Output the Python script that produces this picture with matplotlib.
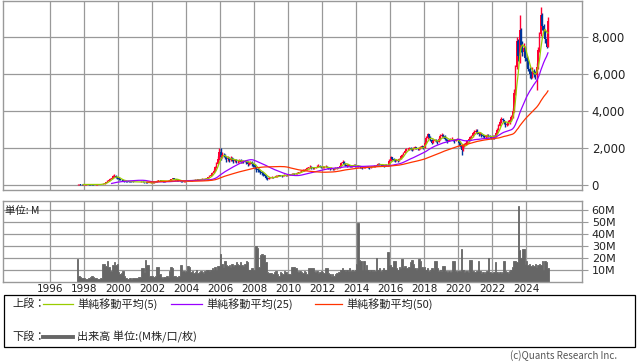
import numpy as np
import pandas as pd
import matplotlib
matplotlib.use("Agg")
import matplotlib.pyplot as plt
from matplotlib.patches import Rectangle
from matplotlib.lines import Line2D

plt.rcParams['font.family'] = ['Noto Sans CJK JP', 'DejaVu Sans']

# monthly data, first month = Aug 1997
start_year, start_month = 1997, 8

close = [
    30, 32, 28, 26, 27,                                              # 1997
    28, 30, 32, 30, 28, 27, 26, 25, 27, 30, 32, 35,                  # 1998
    55, 80, 110, 160, 220, 280, 330, 400, 470, 500, 440, 380,        # 1999
    320, 280, 250, 230, 220, 210, 200, 190, 180, 175, 170, 165,      # 2000
    170, 165, 160, 170, 180, 175, 160, 140, 110, 100, 115, 125,      # 2001
    140, 160, 190, 230, 260, 250, 230, 210, 200, 205, 215, 230,      # 2002
    270, 310, 360, 340, 300, 270, 240, 220, 200, 190, 200, 210,      # 2003
    220, 230, 240, 255, 260, 270, 280, 290, 300, 310, 320, 330,      # 2004
    310, 330, 360, 420, 480, 550, 640, 780, 950, 1150, 1400, 1800,   # 2005
    1500, 1650, 1600, 1500, 1400, 1450, 1350, 1450, 1400, 1300, 1350, 1300,  # 2006
    1300, 1350, 1250, 1300, 1280, 1320, 1250, 1150, 1200, 1250, 1150, 1100,  # 2007
    950, 850, 800, 760, 700, 650, 600, 500, 400, 330, 380, 420,      # 2008
    430, 420, 450, 480, 500, 520, 510, 500, 520, 540, 530, 550,      # 2009
    560, 580, 600, 620, 600, 620, 650, 680, 720, 760, 800, 820,      # 2010
    850, 900, 950, 1000, 950, 900, 920, 950, 1000, 1050, 1000, 950,  # 2011
    950, 980, 1000, 950, 900, 880, 900, 870, 880, 900, 920, 950,     # 2012
    1050, 1200, 1250, 1150, 1100, 1050, 1080, 1050, 1000, 1050, 1080, 1050,  # 2013
    1050, 1000, 980, 950, 920, 950, 980, 1000, 960, 940, 980, 1000,  # 2014
    1020, 1050, 1100, 1150, 1120, 1100, 1080, 1050, 1100, 1080, 1100, 1300,  # 2015
    1500, 1400, 1350, 1300, 1350, 1300, 1400, 1550, 1650, 1750, 1850, 1950,  # 2016
    1950, 2000, 1950, 1900, 2000, 2050, 2000, 1950, 2000, 2050, 2100, 2000,  # 2017
    2300, 2550, 2750, 2600, 2450, 2300, 2400, 2450, 2400, 2350, 2500, 2650,  # 2018
    2700, 2650, 2500, 2450, 2400, 2450, 2500, 2500, 2450, 2400, 2450, 2500,  # 2019
    2300, 2100, 1900, 2100, 2200, 2300, 2400, 2500, 2600, 2650, 2800, 2900,  # 2020
    2950, 2850, 2750, 2800, 2700, 2650, 2600, 2650, 2700, 2650, 2600, 2550,  # 2021
    2650, 2600, 2800, 3000, 3200, 3400, 3600, 3500, 3400, 3250, 3300, 3400,  # 2022
    3500, 3700, 4000, 5000, 6400, 7800, 7000, 8400, 7600, 7200, 7400, 6900,  # 2023
    6700, 6300, 6000, 5900, 6200, 6000, 5950, 6400, 7300, 8200, 9200, 8600,  # 2024
    8300, 7900, 7500, 8900,                                          # 2025
]

high = [
    38, 36, 33, 30, 30,
    31, 33, 35, 34, 31, 30, 29, 28, 30, 33, 35, 40,
    65, 95, 130, 190, 250, 320, 370, 450, 540, 580, 520, 450,
    400, 340, 300, 270, 250, 240, 230, 220, 210, 200, 195, 190,
    190, 185, 180, 190, 200, 200, 185, 170, 145, 120, 130, 140,
    160, 180, 215, 260, 290, 285, 260, 240, 225, 230, 240, 255,
    300, 350, 400, 380, 345, 305, 275, 250, 230, 215, 220, 230,
    240, 250, 265, 275, 285, 295, 305, 315, 325, 335, 345, 355,
    345, 360, 390, 450, 520, 600, 700, 850, 1050, 1250, 1550, 2020,
    1980, 1800, 1750, 1700, 1550, 1550, 1500, 1550, 1500, 1450, 1420, 1400,
    1380, 1420, 1400, 1360, 1350, 1380, 1350, 1280, 1260, 1300, 1280, 1200,
    1150, 1000, 900, 850, 800, 740, 680, 620, 520, 430, 430, 460,
    470, 460, 480, 520, 540, 560, 550, 540, 560, 580, 570, 590,
    600, 620, 650, 670, 650, 660, 690, 720, 770, 810, 850, 870,
    900, 950, 1000, 1060, 1030, 960, 970, 1000, 1060, 1120, 1080, 1020,
    1010, 1040, 1060, 1020, 960, 930, 950, 920, 920, 950, 970, 1000,
    1100, 1260, 1330, 1300, 1200, 1120, 1130, 1110, 1070, 1100, 1130, 1120,
    1100, 1080, 1030, 1000, 970, 990, 1020, 1050, 1020, 990, 1020, 1050,
    1060, 1090, 1150, 1200, 1180, 1150, 1130, 1100, 1140, 1130, 1150, 1400,
    1560, 1530, 1450, 1400, 1420, 1380, 1450, 1600, 1700, 1800, 1900, 2000,
    2030, 2080, 2060, 2000, 2060, 2100, 2080, 2020, 2060, 2100, 2150, 2120,
    2400, 2650, 2830, 2780, 2650, 2500, 2480, 2520, 2480, 2450, 2580, 2750,
    2830, 2760, 2700, 2550, 2500, 2520, 2560, 2580, 2520, 2480, 2520, 2570,
    2520, 2400, 2200, 2200, 2300, 2400, 2450, 2560, 2650, 2700, 2880, 2980,
    3060, 3020, 2900, 2880, 2820, 2750, 2700, 2720, 2780, 2740, 2700, 2650,
    2720, 2700, 2880, 3100, 3300, 3500, 3690, 3650, 3550, 3420, 3400, 3500,
    3600, 3800, 4150, 5200, 6500, 8000, 7900, 9190, 8500, 7800, 7700, 7500,
    7000, 6800, 6400, 6200, 6400, 6300, 6200, 6600, 7500, 8300, 9640, 9300,
    8700, 8400, 8000, 9100,
]

low = [
    25, 27, 24, 22, 24,
    25, 27, 29, 27, 25, 24, 23, 22, 24, 27, 29, 31,
    33, 50, 75, 105, 150, 210, 270, 320, 390, 430, 400, 340,
    290, 250, 220, 200, 190, 185, 180, 170, 160, 155, 150, 145,
    150, 145, 140, 150, 160, 155, 135, 110, 90, 85, 95, 105,
    120, 135, 155, 185, 225, 225, 205, 190, 180, 185, 195, 205,
    225, 265, 300, 310, 270, 240, 215, 200, 180, 170, 180, 190,
    200, 210, 220, 230, 240, 250, 260, 270, 280, 290, 300, 310,
    290, 300, 330, 350, 410, 470, 540, 630, 760, 930, 1130, 1380,
    1350, 1450, 1500, 1400, 1250, 1300, 1250, 1300, 1300, 1200, 1250, 1220,
    1200, 1250, 1180, 1200, 1200, 1230, 1150, 1030, 1080, 1150, 1050, 1000,
    850, 720, 700, 680, 620, 560, 500, 420, 300, 270, 300, 360,
    390, 380, 410, 440, 460, 480, 470, 460, 480, 500, 490, 510,
    520, 540, 560, 580, 560, 580, 610, 640, 680, 720, 760, 780,
    800, 840, 890, 940, 890, 850, 870, 900, 950, 990, 950, 900,
    900, 930, 950, 900, 850, 830, 850, 820, 830, 850, 870, 900,
    940, 1030, 1170, 1100, 1040, 1000, 1020, 1000, 960, 990, 1030, 1000,
    1000, 950, 930, 900, 870, 900, 930, 950, 920, 880, 920, 950,
    970, 1000, 1040, 1090, 1070, 1050, 1030, 1000, 1040, 1030, 1050, 1090,
    1280, 1350, 1280, 1250, 1280, 1240, 1290, 1390, 1540, 1630, 1720, 1830,
    1880, 1920, 1880, 1830, 1880, 1970, 1930, 1880, 1920, 1970, 2020, 1940,
    1990, 2280, 2520, 2550, 2400, 2250, 2280, 2380, 2330, 2250, 2330, 2450,
    2580, 2550, 2450, 2380, 2300, 2380, 2420, 2430, 2370, 2300, 2380, 2420,
    2250, 2050, 1620, 1850, 2050, 2150, 2250, 2350, 2450, 2550, 2610, 2780,
    2830, 2750, 2650, 2700, 2600, 2580, 2540, 2560, 2620, 2580, 2530, 2480,
    2500, 2520, 2580, 2780, 2980, 3180, 3380, 3420, 3300, 3150, 3180, 3250,
    3300, 3450, 3650, 3950, 4900, 6300, 6700, 6600, 7200, 7000, 7000, 6700,
    6400, 6200, 5800, 5760, 5800, 5850, 5750, 5170, 6300, 7200, 8100, 8400,
    8100, 7700, 7400, 7480,
]

# volume in millions
volume = [
    19, 5, 4, 3, 3,
    3, 2, 2, 3, 4, 5, 4, 3, 3, 2, 2, 3,
    3, 15, 15, 13, 17, 12, 9, 9, 14, 16, 14, 15,
    8, 6, 7, 9, 5, 3, 2, 2, 3, 2, 3, 3,
    3, 3, 4, 4, 11, 11, 8, 18, 14, 14, 5, 5,
    5, 4, 5, 12, 12, 6, 4, 3, 4, 4, 5, 4,
    9, 12, 11, 5, 5, 4, 5, 5, 14, 9, 9, 8,
    9, 13, 12, 8, 9, 7, 8, 10, 7, 8, 9, 8,
    7, 9, 10, 10, 9, 10, 11, 10, 12, 10, 13, 13,
    23, 15, 12, 17, 14, 13, 14, 12, 15, 13, 14, 16,
    15, 14, 16, 14, 13, 15, 17, 16, 10, 10, 11, 10,
    10, 30, 28, 12, 22, 23, 22, 22, 16, 8, 7, 7,
    7, 6, 8, 9, 6, 5, 8, 7, 6, 9, 8, 6,
    6, 6, 12, 12, 12, 11, 9, 8, 9, 8, 7, 9,
    8, 6, 11, 11, 11, 11, 9, 8, 9, 7, 8, 9,
    8, 7, 11, 11, 7, 6, 5, 6, 5, 6, 7, 8,
    8, 10, 11, 10, 9, 10, 9, 11, 9, 10, 9, 10,
    15, 49, 18, 17, 10, 17, 10, 14, 10, 9, 10, 9,
    10, 9, 20, 10, 11, 9, 10, 11, 10, 10, 25, 14,
    14, 12, 17, 17, 11, 10, 12, 11, 19, 12, 13, 11,
    11, 12, 16, 18, 15, 11, 10, 11, 19, 17, 12, 11,
    12, 10, 11, 9, 10, 11, 10, 17, 17, 11, 9, 10,
    9, 13, 13, 9, 8, 9, 8, 9, 17, 17, 9, 8,
    9, 9, 27, 10, 8, 9, 9, 8, 18, 18, 9, 8,
    8, 9, 17, 9, 7, 8, 7, 8, 9, 20, 8, 7,
    7, 8, 16, 8, 7, 8, 7, 8, 17, 9, 8, 7,
    9, 10, 12, 17, 17, 16, 63, 26, 20, 27, 27, 15,
    17, 14, 15, 13, 14, 13, 15, 12, 14, 15, 14, 17,
    10, 17, 16, 11,
]

year_ticks = list(range(1996, 2025, 2))
price_ticks = [0, 2000, 4000, 6000, 8000]
volume_ticks = [10, 20, 30, 40, 50, 60]
ma_windows = [5, 25, 50]
ma_colors = ['#99cc00', '#9900ff', '#ff3300']
ma_labels = ['単純移動平均(5)', '単純移動平均(25)', '単純移動平均(50)']

UP, DOWN = '#ff0033', '#003399'
GRID = '#999999'

c = np.array(close, float)
o = np.r_[c[0], c[:-1]]
h = np.maximum(np.array(high, float), np.maximum(o, c))
l = np.minimum(np.array(low, float), np.minimum(o, c))
v = np.array(volume, float)
n = len(c)
t = start_year + (np.arange(n) + start_month - 1) / 12 + 1 / 24
edges = np.r_[t - 1 / 24, t[-1] + 1 / 24]

W, H = 638, 362
fig = plt.figure(figsize=(W / 100, H / 100), dpi=100)

def px_axes(x0, y0, x1, y1):
    return fig.add_axes([x0 / W, 1 - y1 / H, (x1 - x0) / W, (y1 - y0) / H])

xlim = (1996 + (3 - 50) / 17, 1996 + (582 - 50) / 17)

ax1 = px_axes(3, 0.5, 582, 190)
ax2 = px_axes(3, 201, 582, 281.5)

for ax in (ax1, ax2):
    ax.set_xlim(*xlim)
    ax.set_xticks(year_ticks)
    ax.grid(True, color=GRID, lw=0.9)
    ax.set_axisbelow(True)
    for sp in ax.spines.values():
        sp.set_color(GRID)
        sp.set_linewidth(1.0)
    ax.yaxis.tick_right()
    ax.tick_params(axis='y', length=4.5, width=0.8, color=GRID, pad=2.5,
                   labelsize=8, labelcolor='#222222')
    ax.tick_params(axis='x', length=0)

# price panel
ax1.set_ylim(-270, 10000)
ax1.set_yticks(price_ticks)
ax1.set_yticklabels([f'{p:,}' for p in price_ticks], family='DejaVu Sans',
                    fontsize=8.5)
ax1.set_xticklabels([])
up = c >= o
cols = np.where(up, UP, DOWN)
ax1.vlines(t, l, h, colors=cols, lw=1.0, zorder=2)
ax1.bar(t, np.abs(c - o), bottom=np.minimum(o, c), width=0.1,
        color=cols, linewidth=0, zorder=2)
s = pd.Series(c)
for win, col in zip(ma_windows, ma_colors):
    ax1.plot(t, s.rolling(win).mean(), color=col, lw=0.9, zorder=3)

# volume panel
ax2.set_ylim(0, 67.5)
ax2.set_yticks(volume_ticks)
ax2.set_yticklabels([f'{x}M' for x in volume_ticks], family='DejaVu Sans')
ax2.stairs(v, edges, baseline=0, fill=True, facecolor='#666666',
           edgecolor='#666666', linewidth=0.6, zorder=2)
ax2.set_xticklabels([str(y) for y in year_ticks], family='DejaVu Sans',
                    fontsize=7.5, color='#222222')
ax2.tick_params(axis='x', pad=1.5)
ax2.text(0.004, 0.88, '単位: M', transform=ax2.transAxes, fontsize=7.5,
         va='center', ha='left', color='#222222')

# legend box in pixel coords
ov = fig.add_axes([0, 0, 1, 1])
ov.set_xlim(0, W)
ov.set_ylim(H, 0)
ov.axis('off')
ov.add_patch(Rectangle((4, 294.5), 631, 52, fill=False, ec='black', lw=0.9))
ov.text(12, 304, '上段：', fontsize=8, va='center', color='#222222')
ov.text(12, 337, '下段：', fontsize=8, va='center', color='#222222')
line_x = [(43, 73), (171, 202), (315, 342)]
for (a, b), col, lab in zip(line_x, ma_colors, ma_labels):
    ov.add_line(Line2D([a, b], [304, 304], color=col, lw=0.9))
    ov.text(b + 4, 304, lab, fontsize=8, va='center', color='#222222')
ov.add_line(Line2D([43, 73], [337, 337], color='#666666', lw=2.8))
ov.text(77, 337, '出来高 単位:(M株/口/枚)', fontsize=8, va='center',
        color='#222222')
ov.text(617, 356, '(c)Quants Research Inc.', fontsize=7, va='center',
        ha='right', color='#555555')

fig.savefig('out.png', dpi=100)
